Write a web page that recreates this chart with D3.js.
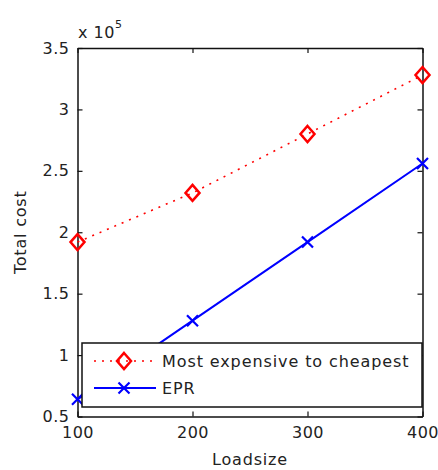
<!DOCTYPE html>
<html>
<head>
<meta charset="utf-8">
<script src="https://cdn.jsdelivr.net/npm/d3@7"></script>
<style>
	body { margin: 0; background: #fff; }
	svg { display: block; }
	text { font-family: "DejaVu Sans", sans-serif; fill: #222; }
</style>
</head>
<body>
<div class="thegraph"></div>
<script>
// values (total cost, raw units)
var loadsize = [100, 200, 300, 400];
var expensiveCost = [192000, 232000, 280000, 328000];
var eprCost = [64000, 128000, 192000, 256000];
var xTicks = [100, 200, 300, 400];
var yTicks = [50000, 100000, 150000, 200000, 250000, 300000, 350000];
var seriesNames = ["Most expensive to cheapest", "EPR"];

var w = 438, h = 470;
var plotLeft = 77.5, plotTop = 48, plotRight = 422.5, plotBottom = 416.5;

var svg = d3.select(".thegraph").append("svg")
	.attr("width", w)
	.attr("height", h);

var x = d3.scaleLinear().domain([100, 400]).range([plotLeft, plotRight]);
var y = d3.scaleLinear().domain([50000, 350000]).range([plotBottom, plotTop]);
var fmt = function(d) { return String(+(d / 1e5).toFixed(2)); };

// axes with inward ticks on all four sides (box on)
svg.append("g").attr("transform", "translate(0," + plotBottom + ")")
	.call(d3.axisBottom(x).tickValues(xTicks).tickSizeInner(-5).tickSizeOuter(0).tickPadding(10).tickFormat(d3.format("d")));
svg.append("g").attr("transform", "translate(0," + plotTop + ")")
	.call(d3.axisTop(x).tickValues(xTicks).tickSizeInner(-5).tickSizeOuter(0).tickFormat(""));
svg.append("g").attr("transform", "translate(" + plotLeft + ",0)")
	.call(d3.axisLeft(y).tickValues(yTicks).tickSizeInner(-5).tickSizeOuter(0).tickPadding(8).tickFormat(fmt));
svg.append("g").attr("transform", "translate(" + plotRight + ",0)")
	.call(d3.axisRight(y).tickValues(yTicks).tickSizeInner(-5).tickSizeOuter(0).tickFormat(""));

svg.selectAll(".domain").attr("stroke", "#111").attr("stroke-width", 1.5);
svg.selectAll(".tick line").attr("stroke", "#111").attr("stroke-width", 1.2);
svg.selectAll(".tick text")
	.attr("font-family", "DejaVu Sans, sans-serif")
	.attr("font-size", "16px")
	.attr("letter-spacing", "0.5px")
	.attr("fill", "#222");

// exponent label
var expo = svg.append("text").attr("x", 78).attr("y", 38).attr("font-size", "16px").attr("letter-spacing", "0.5px");
expo.append("tspan").text("x 10");
expo.append("tspan").attr("dy", -10).attr("font-size", "11px").text("5");

// axis titles
svg.append("text")
	.attr("x", (plotLeft + plotRight) / 2).attr("y", 465)
	.attr("text-anchor", "middle")
	.attr("font-size", "16px")
	.attr("letter-spacing", "0.8px")
	.text("Loadsize");
svg.append("text")
	.attr("transform", "translate(26," + (plotTop + plotBottom) / 2 + ") rotate(-90)")
	.attr("text-anchor", "middle")
	.attr("font-size", "16px")
	.attr("letter-spacing", "0.8px")
	.text("Total cost");

var line = d3.line()
	.x(function(d, i) { return x(loadsize[i]); })
	.y(function(d) { return y(d); });

var diamond = function(g, cx, cy) {
	g.append("path")
		.attr("d", "M" + cx + "," + (cy - 8) + "L" + (cx + 7) + "," + cy + "L" + cx + "," + (cy + 8) + "L" + (cx - 7) + "," + cy + "Z")
		.attr("fill", "none")
		.attr("stroke", "#ff0000")
		.attr("stroke-width", 2.5);
};
var cross = function(g, cx, cy) {
	var s = 5.5;
	g.append("path")
		.attr("d", "M" + (cx - s) + "," + (cy - s) + "L" + (cx + s) + "," + (cy + s) + "M" + (cx - s) + "," + (cy + s) + "L" + (cx + s) + "," + (cy - s))
		.attr("stroke", "#0000ff")
		.attr("stroke-width", 2.2);
};

// red dotted series
svg.append("path")
	.datum(expensiveCost)
	.attr("d", line)
	.attr("fill", "none")
	.attr("stroke", "#ff0000")
	.attr("stroke-width", 1.6)
	.attr("stroke-dasharray", "2,6");
var gRed = svg.append("g");
expensiveCost.forEach(function(d, i) { diamond(gRed, x(loadsize[i]), y(d)); });

// blue solid series
svg.append("path")
	.datum(eprCost)
	.attr("d", line)
	.attr("fill", "none")
	.attr("stroke", "#0000ff")
	.attr("stroke-width", 2);
var gBlue = svg.append("g");
eprCost.forEach(function(d, i) { cross(gBlue, x(loadsize[i]), y(d)); });

// legend
var lg = svg.append("g");
lg.append("rect")
	.attr("x", 82).attr("y", 343)
	.attr("width", 340).attr("height", 64)
	.attr("fill", "#fff")
	.attr("stroke", "#111")
	.attr("stroke-width", 1.5);
lg.append("line")
	.attr("x1", 94).attr("x2", 156).attr("y1", 361).attr("y2", 361)
	.attr("stroke", "#ff0000").attr("stroke-width", 1.6).attr("stroke-dasharray", "2,6");
diamond(lg, 124, 361);
lg.append("line")
	.attr("x1", 94).attr("x2", 156).attr("y1", 388).attr("y2", 388)
	.attr("stroke", "#0000ff").attr("stroke-width", 2);
cross(lg, 124, 388);
lg.selectAll("text.leg")
	.data(seriesNames)
	.enter()
	.append("text")
	.attr("class", "leg")
	.attr("x", 162)
	.attr("y", function(d, i) { return 367 + i * 27; })
	.attr("font-size", "16px")
	.attr("letter-spacing", "0.9px")
	.text(function(d) { return d; });
</script>
</body>
</html>
